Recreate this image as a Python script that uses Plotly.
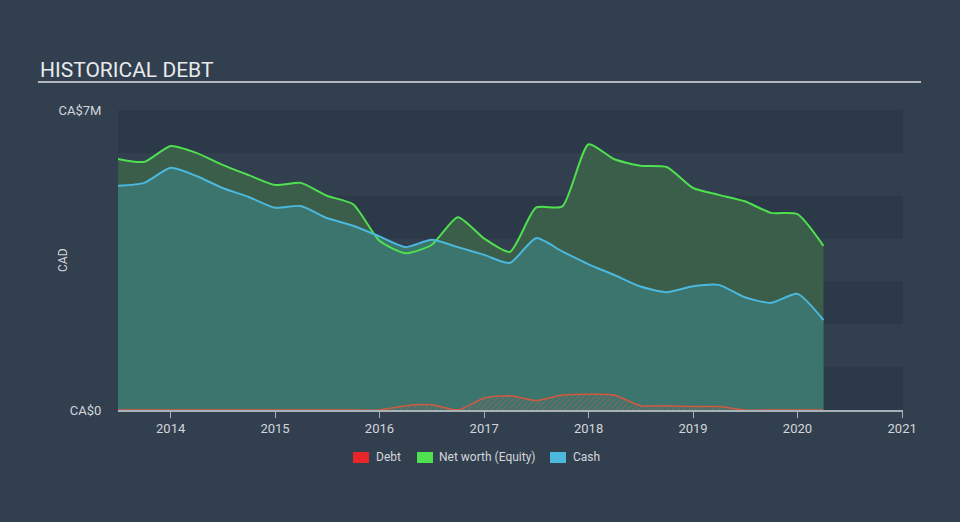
import plotly.graph_objects as go

# quarterly reporting dates
dates = [
    "2013-07-01", "2013-10-01", "2014-01-01", "2014-04-01", "2014-07-01", "2014-10-01",
    "2015-01-01", "2015-04-01", "2015-07-01", "2015-10-01", "2016-01-01", "2016-04-01",
    "2016-07-01", "2016-10-01", "2017-01-01", "2017-04-01", "2017-07-01", "2017-10-01",
    "2018-01-01", "2018-04-01", "2018-07-01", "2018-10-01", "2019-01-01", "2019-04-01",
    "2019-07-01", "2019-10-01", "2020-01-01", "2020-04-01",
]

# values in CAD millions
debt = [
    0, 0, 0, 0, 0, 0, 0, 0, 0, 0, 0, 0.10, 0.12, 0, 0.28, 0.33, 0.22, 0.35,
    0.37, 0.35, 0.10, 0.10, 0.08, 0.08, 0, 0, 0, 0,
]
net_worth = [
    5.86, 5.79, 6.16, 6.00, 5.72, 5.48, 5.25, 5.30, 5.00, 4.80, 3.95, 3.66, 3.85, 4.50,
    4.00, 3.69, 4.72, 4.75, 6.20, 5.85, 5.70, 5.67, 5.18, 5.02, 4.87, 4.60, 4.57, 3.83,
]
cash = [
    5.23, 5.30, 5.65, 5.46, 5.18, 4.97, 4.72, 4.76, 4.48, 4.30, 4.05, 3.80, 3.97, 3.80,
    3.62, 3.43, 4.01, 3.70, 3.40, 3.15, 2.88, 2.75, 2.89, 2.92, 2.63, 2.50, 2.71, 2.10,
]

legend_names = ["Debt", "Net worth (Equity)", "Cash"]
y_ticks = [0, 7e6]
y_tick_text = ["CA$0", "CA$7M"]
year_ticks = ["2014-01-01", "2015-01-01", "2016-01-01", "2017-01-01",
              "2018-01-01", "2019-01-01", "2020-01-01", "2021-01-01"]

BG = "#323f4f"
BAND_DARK = "#2c3948"
TEXT = "#d2d6db"
GREEN = "#4fe04f"
BLUE = "#4bb8dc"
RED = "#e8262a"
CASH_FILL = "#3c746e"

spline = dict(shape="spline", smoothing=0.6)

fig = go.Figure()

# fills first
fig.add_trace(go.Scatter(
    x=dates, y=[v * 1e6 for v in net_worth], mode="lines",
    line=dict(width=0, **spline), fill="tozeroy", fillcolor="#3b5e4b",
    showlegend=False, hoverinfo="skip",
))
fig.add_trace(go.Scatter(
    x=dates, y=[v * 1e6 for v in cash], mode="lines",
    line=dict(width=0, **spline), fill="tozeroy", fillcolor=CASH_FILL,
    showlegend=False, hoverinfo="skip",
))
fig.add_trace(go.Scatter(
    x=dates, y=[v * 1e6 for v in debt], mode="lines",
    line=dict(width=0, **spline), fill="tozeroy", fillcolor=CASH_FILL,
    fillpattern=dict(shape="/", fgcolor="#b9604c", bgcolor=CASH_FILL, size=4, solidity=0.3),
    showlegend=False, hoverinfo="skip",
))

# lines on top
fig.add_trace(go.Scatter(
    x=dates, y=[v * 1e6 for v in net_worth], name="Net worth (Equity)", mode="lines",
    line=dict(color=GREEN, width=2, **spline), showlegend=False, hoverinfo="skip",
))
fig.add_trace(go.Scatter(
    x=dates, y=[v * 1e6 for v in cash], name="Cash", mode="lines",
    line=dict(color=BLUE, width=2, **spline), showlegend=False, hoverinfo="skip",
))
fig.add_trace(go.Scatter(
    x=dates, y=[v * 1e6 for v in debt], name="Debt", mode="lines",
    line=dict(color="#d25a40", width=1.5, **spline), showlegend=False, hoverinfo="skip",
))

# alternating horizontal bands
shapes = []
for i in range(7):
    if i % 2 == 0:
        shapes.append(dict(type="rect", xref="paper", yref="y", x0=0, x1=1,
                           y0=i * 1e6, y1=(i + 1) * 1e6, fillcolor=BAND_DARK,
                           line=dict(width=0), layer="below"))
# title underline
shapes.append(dict(type="line", xref="paper", yref="paper", x0=-0.102, x1=1.023,
                   y0=1.093, y1=1.093, line=dict(color="#b4b8be", width=2)))

annotations = [dict(text="CAD", xref="paper", yref="paper", x=-0.0701, y=0.5,
                    xanchor="center", yanchor="middle", textangle=-90, showarrow=False,
                    font=dict(size=12, color=TEXT))]

# manual legend (pixel positions converted to paper coords)
def px_x(p):
    return (p - 118) / 785


def px_y(p):
    return (410 - p) / 300


for name, color, sq_x, txt_x in zip(legend_names, [RED, GREEN, BLUE],
                                    [353, 417, 550], [374, 437, 571]):
    shapes.append(dict(type="rect", xref="paper", yref="paper",
                       x0=px_x(sq_x), x1=px_x(sq_x + 16), y0=px_y(463), y1=px_y(452),
                       fillcolor=color, line=dict(width=0)))
    annotations.append(dict(text=name, xref="paper", yref="paper", x=px_x(txt_x),
                            y=px_y(457.5), xanchor="left", yanchor="middle",
                            showarrow=False, font=dict(size=12, color=TEXT)))

fig.update_layout(
    width=960, height=522,
    paper_bgcolor=BG, plot_bgcolor=BG,
    margin=dict(l=118, r=57, t=110, b=112),
    font=dict(family="Roboto, sans-serif", color=TEXT, size=12),
    title=dict(text="HISTORICAL DEBT", x=40 / 960, xref="container", xanchor="left",
               y=1 - 70 / 522, yref="container", yanchor="middle",
               font=dict(size=21, color="#e8eaec", family="Roboto, sans-serif")),
    shapes=shapes,
    annotations=annotations,
    showlegend=False,
    xaxis=dict(
        type="date", range=["2013-07-01", "2021-01-04"],
        tickvals=year_ticks, tickformat="%Y", tickfont=dict(size=13),
        ticks="outside", ticklen=6, tickcolor="#a9b0b8",
        showline=True, linecolor="#a9b0b8", linewidth=1.5,
        showgrid=False, zeroline=False,
    ),
    yaxis=dict(
        range=[0, 7e6], tickvals=y_ticks, ticktext=y_tick_text, tickfont=dict(size=13),
        ticks="outside", ticklen=13, tickcolor="rgba(0,0,0,0)",
        showgrid=False, zeroline=False, showline=False,
    ),
)

fig.write_html("out.html", config={"displayModeBar": False},
               post_script="document.body.style.margin='0';")
